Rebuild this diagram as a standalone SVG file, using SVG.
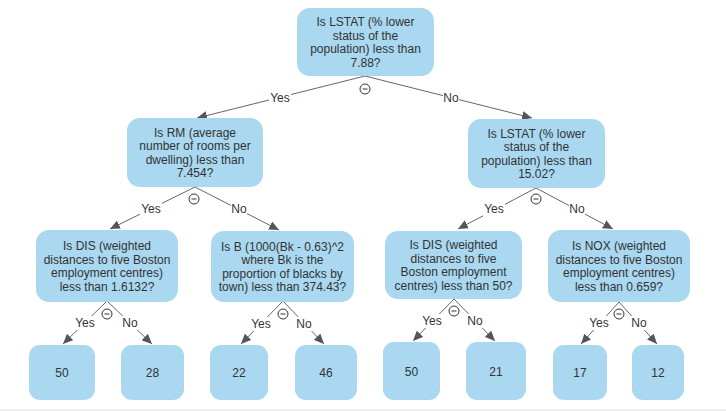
<svg xmlns="http://www.w3.org/2000/svg" width="726" height="411" viewBox="0 0 726 411">
<style>
.n{fill:#a9d8f0}
.t{font-family:"Liberation Sans",Arial,sans-serif;font-size:12px;fill:#333;text-anchor:middle}
.e{stroke:#666;stroke-width:1;fill:none;marker-end:url(#ah)}
.lb{fill:#fff}
.ic{fill:#fff;stroke:#333;stroke-width:1}
</style>
<defs>
<marker id="ah" markerUnits="userSpaceOnUse" markerWidth="10" markerHeight="9" refX="10" refY="4.5" orient="auto">
<path d="M0,0 L10,4.5 L0,9 z" fill="#555"/>
</marker>
<g id="minus"><circle class="ic" cx="0" cy="0" r="5"/><line x1="-2.5" y1="0" x2="2.5" y2="0" stroke="#333" stroke-width="1"/></g>
</defs>
<rect x="0" y="0" width="726" height="411" fill="#fff"/>
<rect x="0" y="409" width="726" height="2" fill="#efefef"/>

<g id="connectors">
<path class="e" d="M365,76 L197,118"/>
<path class="e" d="M365,76 L532,118"/>
<path class="e" d="M195,187 L110,229"/>
<path class="e" d="M195,187 L279,230"/>
<path class="e" d="M536,188 L458,229"/>
<path class="e" d="M536,188 L613,229"/>
<path class="e" d="M107,301 L63,344"/>
<path class="e" d="M107,301 L152,344"/>
<path class="e" d="M283,301 L241,344"/>
<path class="e" d="M283,301 L324,344"/>
<path class="e" d="M454,299 L413,341"/>
<path class="e" d="M454,299 L495,341"/>
<path class="e" d="M619,302 L581,344"/>
<path class="e" d="M619,302 L657,344"/>

<rect class="lb" x="269" y="91" width="22" height="14"/><text class="t" x="280" y="102">Yes</text>
<rect class="lb" x="443" y="91" width="16" height="14"/><text class="t" x="451" y="102">No</text>
<rect class="lb" x="140" y="202" width="22" height="14"/><text class="t" x="151" y="213">Yes</text>
<rect class="lb" x="231" y="202" width="16" height="14"/><text class="t" x="239" y="213">No</text>
<rect class="lb" x="483" y="202" width="22" height="14"/><text class="t" x="494" y="213">Yes</text>
<rect class="lb" x="569" y="202" width="16" height="14"/><text class="t" x="577" y="213">No</text>
<rect class="lb" x="74" y="316" width="22" height="14"/><text class="t" x="85" y="327">Yes</text>
<rect class="lb" x="122" y="316" width="16" height="14"/><text class="t" x="130" y="327">No</text>
<rect class="lb" x="250" y="317" width="22" height="14"/><text class="t" x="261" y="328">Yes</text>
<rect class="lb" x="296" y="317" width="16" height="14"/><text class="t" x="304" y="328">No</text>
<rect class="lb" x="421" y="314" width="22" height="14"/><text class="t" x="432" y="325">Yes</text>
<rect class="lb" x="467" y="314" width="16" height="14"/><text class="t" x="475" y="325">No</text>
<rect class="lb" x="588" y="316" width="22" height="14"/><text class="t" x="599" y="327">Yes</text>
<rect class="lb" x="631" y="316" width="16" height="14"/><text class="t" x="639" y="327">No</text>

<use href="#minus" x="365" y="89"/>
<use href="#minus" x="194" y="199"/>
<use href="#minus" x="536" y="199"/>
<use href="#minus" x="107" y="314"/>
<use href="#minus" x="283" y="314"/>
<use href="#minus" x="454" y="311"/>
<use href="#minus" x="619" y="314"/>
</g>

<g id="root">
<rect class="n" x="297" y="8" width="137" height="68" rx="13"/>
<text class="t"><tspan x="365.5" y="26">Is LSTAT (% lower</tspan><tspan x="365.5" y="39.5">status of the</tspan><tspan x="365.5" y="53">population) less than</tspan><tspan x="365.5" y="66.5">7.88?</tspan></text>
</g>
<g id="rm">
<rect class="n" x="127" y="118" width="136" height="69" rx="13"/>
<text class="t"><tspan x="195" y="136.5">Is RM (average</tspan><tspan x="195" y="150">number of rooms per</tspan><tspan x="195" y="163.5">dwelling) less than</tspan><tspan x="195" y="177">7.454?</tspan></text>
</g>
<g id="lstat2">
<rect class="n" x="468" y="119" width="137" height="69" rx="13"/>
<text class="t"><tspan x="536.5" y="137.5">Is LSTAT (% lower</tspan><tspan x="536.5" y="151">status of the</tspan><tspan x="536.5" y="164.5">population) less than</tspan><tspan x="536.5" y="178">15.02?</tspan></text>
</g>
<g id="dis1">
<rect class="n" x="36" y="230" width="142" height="72" rx="13"/>
<text class="t"><tspan x="107" y="250">Is DIS (weighted</tspan><tspan x="107" y="263.5">distances to five Boston</tspan><tspan x="107" y="277">employment centres)</tspan><tspan x="107" y="290.5">less than 1.6132?</tspan></text>
</g>
<g id="b">
<rect class="n" x="211" y="231" width="143" height="71" rx="13"/>
<text class="t"><tspan x="282.5" y="250.5">Is B (1000(Bk - 0.63)^2</tspan><tspan x="282.5" y="264">where Bk is the</tspan><tspan x="282.5" y="277.5">proportion of blacks by</tspan><tspan x="282.5" y="291">town) less than 374.43?</tspan></text>
</g>
<g id="dis2">
<rect class="n" x="385" y="231" width="137" height="68" rx="13"/>
<text class="t"><tspan x="453.5" y="249">Is DIS (weighted</tspan><tspan x="453.5" y="262.5">distances to five</tspan><tspan x="453.5" y="276">Boston employment</tspan><tspan x="453.5" y="289.5">centres) less than 50?</tspan></text>
</g>
<g id="nox">
<rect class="n" x="548" y="230" width="142" height="72" rx="13"/>
<text class="t"><tspan x="619" y="250">Is NOX (weighted</tspan><tspan x="619" y="263.5">distances to five Boston</tspan><tspan x="619" y="277">employment centres)</tspan><tspan x="619" y="290.5">less than 0.659?</tspan></text>
</g>

<g id="leaf50a"><rect class="n" x="29" y="345" width="66" height="55" rx="11"/><text class="t" x="62" y="377">50</text></g>
<g id="leaf28"><rect class="n" x="121" y="345" width="63" height="55" rx="11"/><text class="t" x="152.5" y="377">28</text></g>
<g id="leaf22"><rect class="n" x="210" y="345" width="58" height="55" rx="11"/><text class="t" x="239" y="377">22</text></g>
<g id="leaf46"><rect class="n" x="295" y="345" width="62" height="55" rx="11"/><text class="t" x="326" y="377">46</text></g>
<g id="leaf50b"><rect class="n" x="383" y="342" width="57" height="58" rx="11"/><text class="t" x="411.5" y="375.5">50</text></g>
<g id="leaf21"><rect class="n" x="466" y="342" width="60" height="58" rx="11"/><text class="t" x="496" y="375.5">21</text></g>
<g id="leaf17"><rect class="n" x="553" y="345" width="54" height="55" rx="11"/><text class="t" x="580" y="377">17</text></g>
<g id="leaf12"><rect class="n" x="632" y="345" width="52" height="55" rx="11"/><text class="t" x="658" y="377">12</text></g>
</svg>
